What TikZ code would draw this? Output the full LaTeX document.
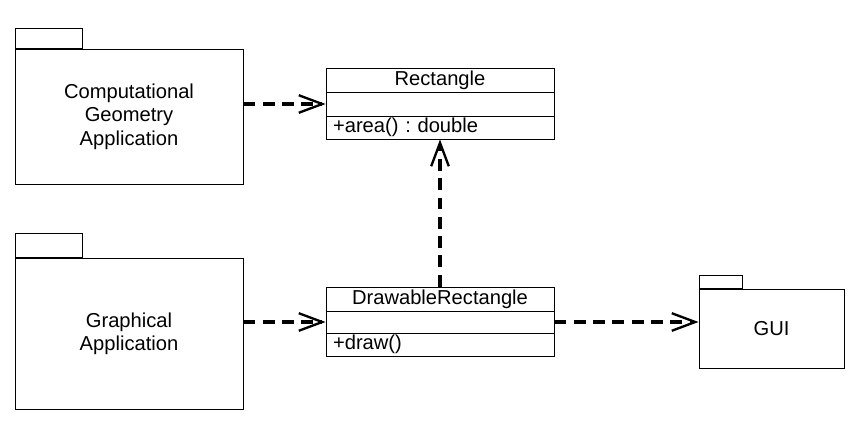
\documentclass[tikz,border=0pt]{standalone}
\usepackage{fontspec}
\setmainfont{Liberation Sans}
\usetikzlibrary{positioning, arrows.meta}
\frenchspacing

\tikzset{
  pkgbody/.style={draw, line width=0.8pt, minimum width=6.84cm, align=center, inner sep=0pt},
  pkgtab/.style={draw, line width=0.8pt, anchor=south west, minimum width=2.01cm, inner sep=0pt},
  classpart/.style={draw, line width=0.8pt, minimum width=6.84cm, inner sep=0pt},
  opspart/.style={classpart, text width=6.84cm-12pt, align=left, inner xsep=6pt},
  dep/.style={line width=2.8pt, dash pattern=on 10pt off 6.5pt,
    -{Straight Barb[length=20pt, width=15pt, line width=2pt]}}
}

\begin{document}
\begin{tikzpicture}[font=\fontsize{17.2}{20}\selectfont]
            \useasboundingbox (0, 0) rectangle (25.98, -12.69);

            % packages
            \node[pkgbody, minimum height=4.05cm] (cga) at (3.87, -3.495) {Computational\\Geometry\\Application};
            \node[pkgtab, minimum height=0.6cm] (cgatab) at (cga.north west) {};
            \node[pkgbody, minimum height=4.53cm] (ga) at (3.87, -10.005) {Graphical\\Application};
            \node[pkgtab, minimum height=0.72cm] (gatab) at (ga.north west) {};
            \node[pkgbody, minimum width=4.35cm, minimum height=2.37cm] (gui) at (23.145, -9.855) {GUI};
            \node[pkgtab, minimum width=1.29cm, minimum height=0.39cm] (guitab) at (gui.north west) {};

            % classes
            \node[classpart, minimum height=0.72cm] (rname) at (13.2, -2.4) {Rectangle};
            \node[classpart, minimum height=0.72cm] (rattr) at (13.2, -3.12) {};
            \node[opspart, minimum height=0.69cm] (rops) at (13.2, -3.825) {+area() : double};

            \node[classpart, minimum height=0.72cm] (dname) at (13.2, -8.97) {DrawableRectangle};
            \node[classpart, minimum height=0.66cm] (dattr) at (13.2, -9.66) {};
            \node[opspart, minimum height=0.69cm] (dops) at (13.2, -10.335) {+draw()};

            % dependencies
            \draw [dep] (cga.east |- rattr.west) -- (rattr.west);
            \draw [dep] (ga.east |- dattr.west) -- (dattr.west);
            \draw [dep] (dname.north) -- (rops.south);
            \draw [dep] (dattr.east) -- (dattr.east -| gui.west);
        \end{tikzpicture}
\end{document}
